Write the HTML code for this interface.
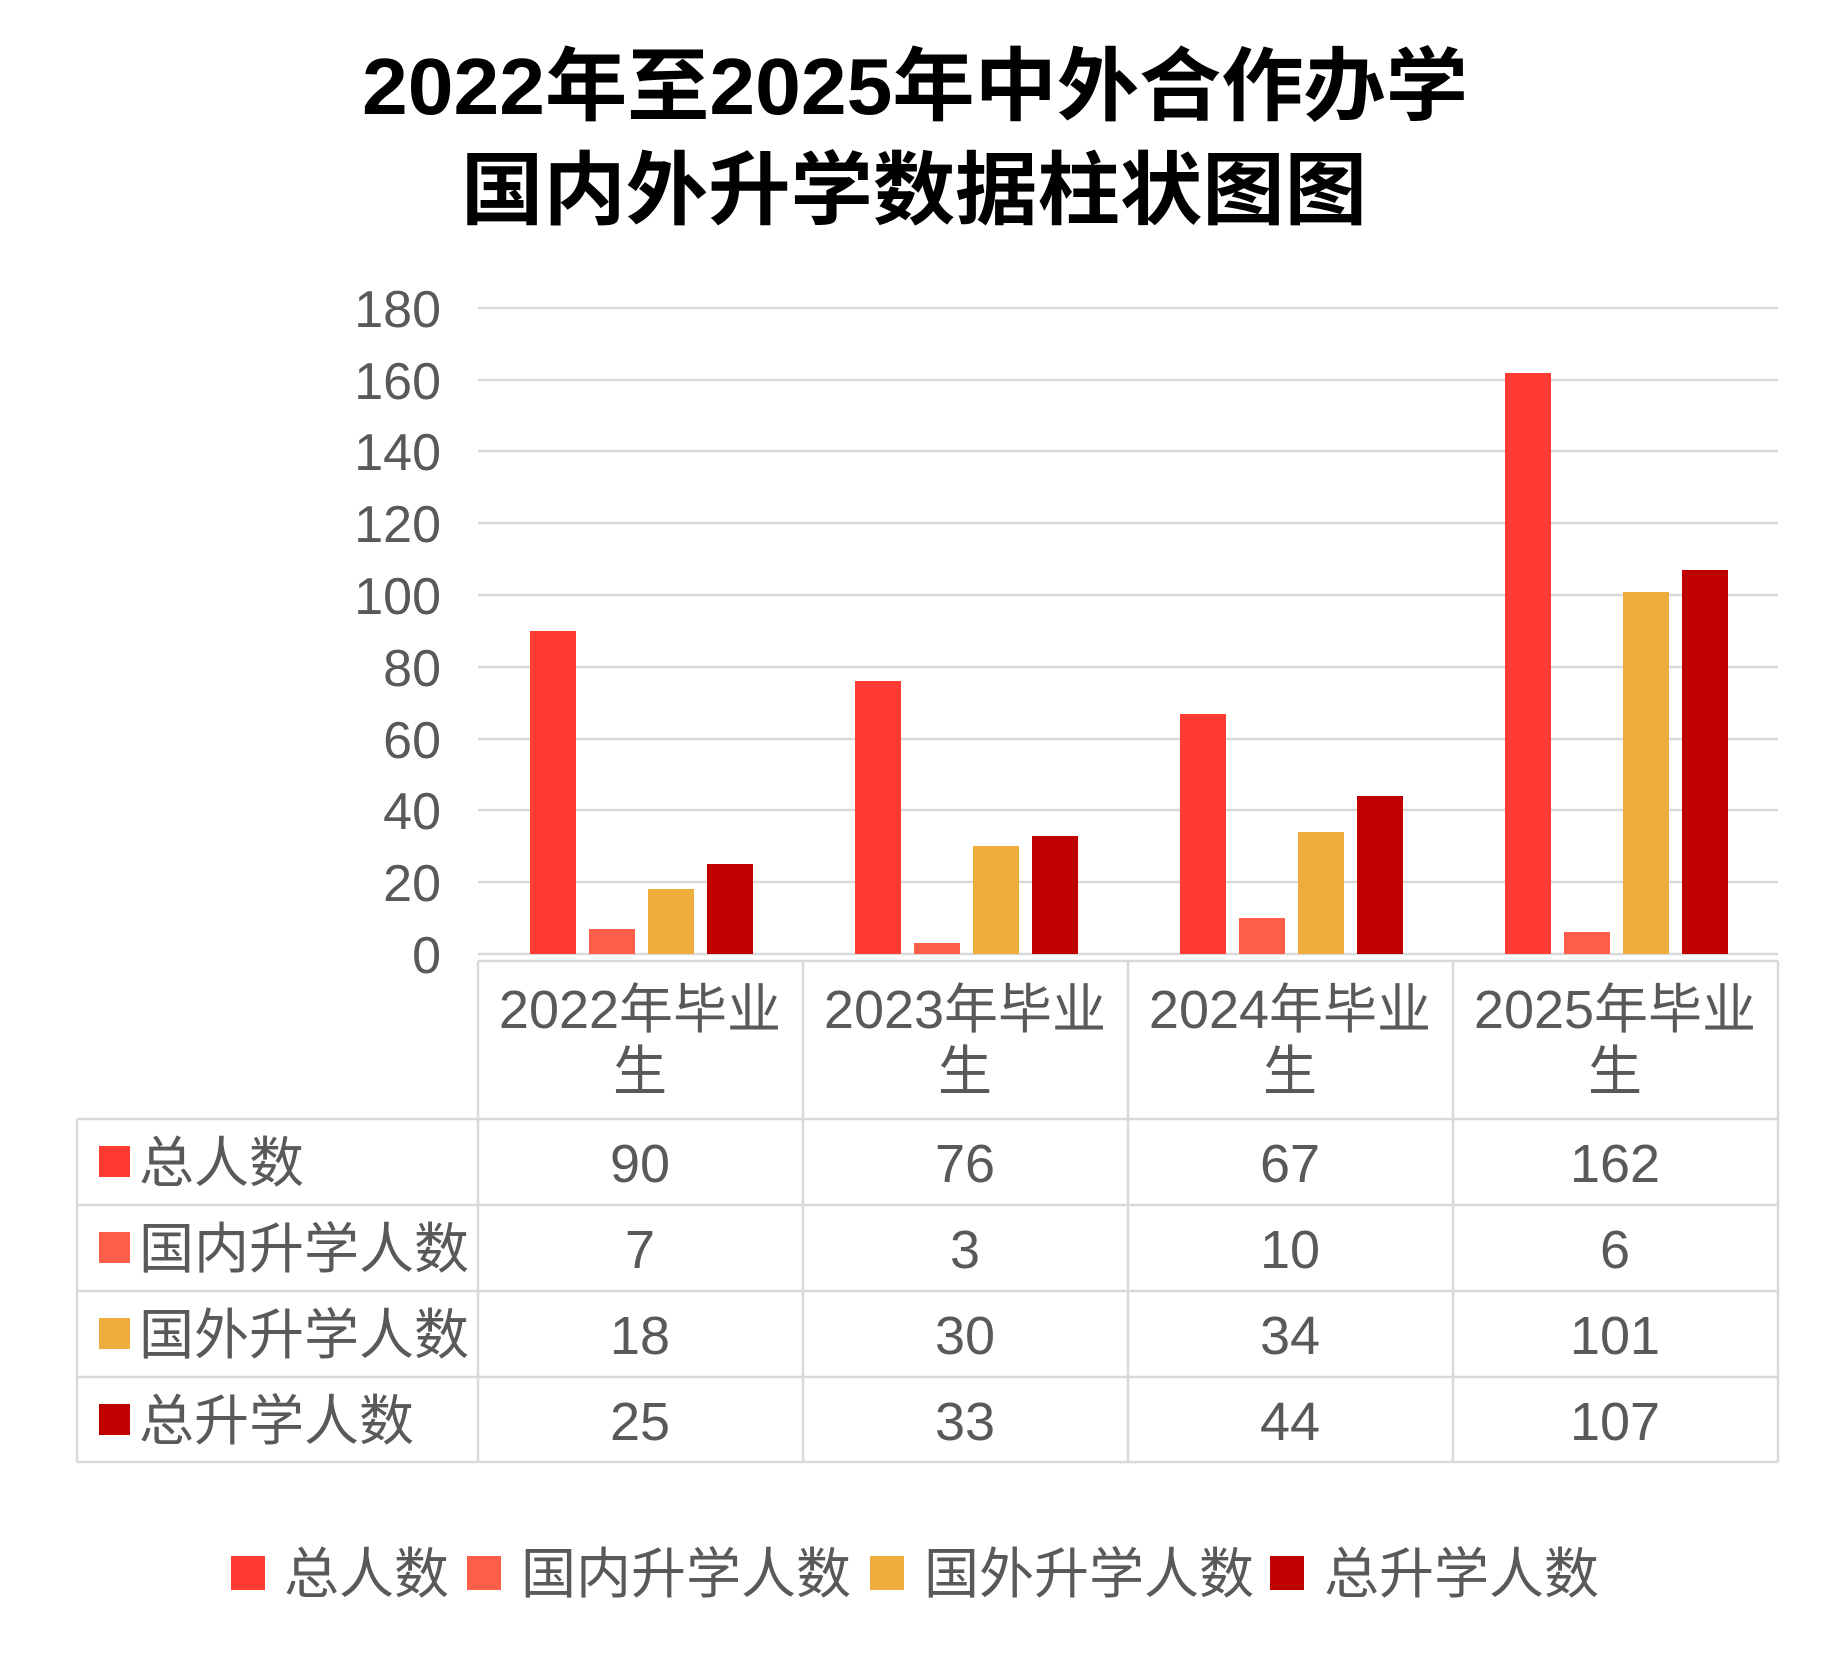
<!DOCTYPE html>
<html><head><meta charset="utf-8"><style>
html,body{margin:0;padding:0;background:#fff;}
svg text{font-family:"Liberation Sans","Noto Sans CJK SC",sans-serif;}
</style></head><body>
<svg width="1828" height="1652" viewBox="0 0 1828 1652" xmlns="http://www.w3.org/2000/svg">
<rect width="1828" height="1652" fill="#fff"/>
<g font-weight="bold" fill="#000" font-size="80">
<text x="362" y="114" textLength="1106" lengthAdjust="spacingAndGlyphs">2022年至2025年中外合作办学</text>
<text x="461" y="218" textLength="906" lengthAdjust="spacingAndGlyphs">国内外升学数据柱状图图</text>
</g>
<g stroke="#d9d9d9" stroke-width="2.5">
<line x1="478" y1="308" x2="1778" y2="308"/>
<line x1="478" y1="380" x2="1778" y2="380"/>
<line x1="478" y1="451" x2="1778" y2="451"/>
<line x1="478" y1="523" x2="1778" y2="523"/>
<line x1="478" y1="595" x2="1778" y2="595"/>
<line x1="478" y1="667" x2="1778" y2="667"/>
<line x1="478" y1="739" x2="1778" y2="739"/>
<line x1="478" y1="810" x2="1778" y2="810"/>
<line x1="478" y1="882" x2="1778" y2="882"/>
<line x1="478" y1="954" x2="1778" y2="954"/>
</g>
<g fill="#595959" font-size="52" text-anchor="end">
<text x="441" y="327">180</text><text x="441" y="399">160</text><text x="441" y="470">140</text>
<text x="441" y="542">120</text><text x="441" y="614">100</text><text x="441" y="686">80</text>
<text x="441" y="758">60</text><text x="441" y="829">40</text><text x="441" y="901">20</text>
<text x="441" y="973">0</text>
</g>
<g>
<rect x="530" y="631" width="46" height="323" fill="#FF3B33"/>
<rect x="589" y="929" width="46" height="25" fill="#FF5E4A"/>
<rect x="648" y="889" width="46" height="65" fill="#EDAD3A"/>
<rect x="707" y="864" width="46" height="90" fill="#C00000"/>
<rect x="855" y="681" width="46" height="273" fill="#FF3B33"/>
<rect x="914" y="943" width="46" height="11" fill="#FF5E4A"/>
<rect x="973" y="846" width="46" height="108" fill="#EDAD3A"/>
<rect x="1032" y="836" width="46" height="118" fill="#C00000"/>
<rect x="1180" y="714" width="46" height="240" fill="#FF3B33"/>
<rect x="1239" y="918" width="46" height="36" fill="#FF5E4A"/>
<rect x="1298" y="832" width="46" height="122" fill="#EDAD3A"/>
<rect x="1357" y="796" width="46" height="158" fill="#C00000"/>
<rect x="1505" y="373" width="46" height="581" fill="#FF3B33"/>
<rect x="1564" y="932" width="46" height="22" fill="#FF5E4A"/>
<rect x="1623" y="592" width="46" height="362" fill="#EDAD3A"/>
<rect x="1682" y="570" width="46" height="384" fill="#C00000"/>
</g>
<g stroke="#d9d9d9" stroke-width="2.5" fill="none">
<line x1="478" y1="961" x2="1778" y2="961"/>
<line x1="77" y1="1119" x2="1778" y2="1119"/>
<line x1="77" y1="1205" x2="1778" y2="1205"/>
<line x1="77" y1="1291" x2="1778" y2="1291"/>
<line x1="77" y1="1377" x2="1778" y2="1377"/>
<line x1="77" y1="1462" x2="1778" y2="1462"/>
<line x1="77" y1="1119" x2="77" y2="1462"/>
<line x1="478" y1="961" x2="478" y2="1462"/>
<line x1="803" y1="961" x2="803" y2="1462"/>
<line x1="1128" y1="961" x2="1128" y2="1462"/>
<line x1="1453" y1="961" x2="1453" y2="1462"/>
<line x1="1778" y1="961" x2="1778" y2="1462"/>
</g>
<g fill="#595959" font-size="54" text-anchor="middle">
<text x="640" y="1028">2022年毕业</text><text x="640" y="1090">生</text>
<text x="965" y="1028">2023年毕业</text><text x="965" y="1090">生</text>
<text x="1290" y="1028">2024年毕业</text><text x="1290" y="1090">生</text>
<text x="1615" y="1028">2025年毕业</text><text x="1615" y="1090">生</text>
<text x="640" y="1182">90</text><text x="965" y="1182">76</text><text x="1290" y="1182">67</text><text x="1615" y="1182">162</text>
<text x="640" y="1268">7</text><text x="965" y="1268">3</text><text x="1290" y="1268">10</text><text x="1615" y="1268">6</text>
<text x="640" y="1354">18</text><text x="965" y="1354">30</text><text x="1290" y="1354">34</text><text x="1615" y="1354">101</text>
<text x="640" y="1440">25</text><text x="965" y="1440">33</text><text x="1290" y="1440">44</text><text x="1615" y="1440">107</text>
</g>
<g fill="#595959" font-size="55">
<rect x="99" y="1146" width="31" height="31" fill="#FF3B33"/><text x="139" y="1182">总人数</text>
<rect x="99" y="1232" width="31" height="31" fill="#FF5E4A"/><text x="139" y="1268">国内升学人数</text>
<rect x="99" y="1318" width="31" height="31" fill="#EDAD3A"/><text x="139" y="1354">国外升学人数</text>
<rect x="99" y="1404" width="31" height="31" fill="#C00000"/><text x="139" y="1440">总升学人数</text>
</g>
<g fill="#595959" font-size="55">
<rect x="231" y="1556" width="34" height="34" fill="#FF3B33"/><text x="284" y="1593">总人数</text>
<rect x="467" y="1556" width="34" height="34" fill="#FF5E4A"/><text x="521" y="1593">国内升学人数</text>
<rect x="870" y="1556" width="34" height="34" fill="#EDAD3A"/><text x="924" y="1593">国外升学人数</text>
<rect x="1270" y="1556" width="34" height="34" fill="#C00000"/><text x="1324" y="1593">总升学人数</text>
</g>
</svg>
</body></html>
